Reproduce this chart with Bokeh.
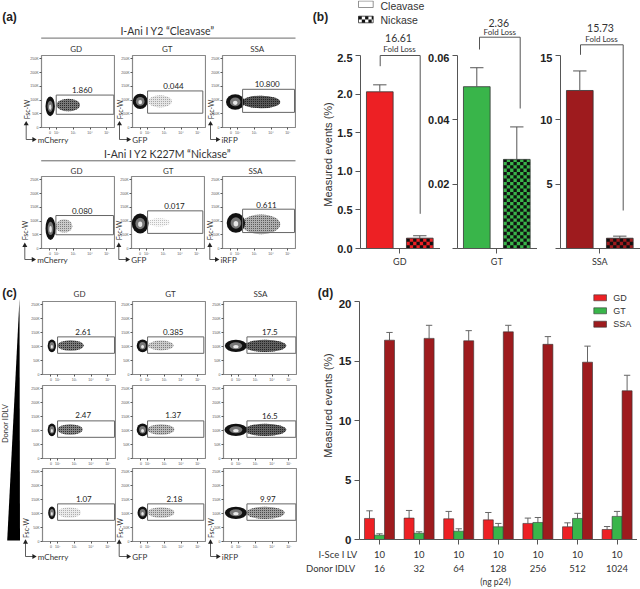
import math
import numpy as np
from bokeh.plotting import figure
from bokeh.models import Range1d, FixedTicker, LinearAxis, Column
from bokeh.core.properties import value
from bokeh.embed import file_html
from bokeh.resources import INLINE

# ---------- data ----------
red, green, dred = "#ED2024", "#39B54A", "#9E1B1E"
b_names = ["GD", "GT", "SSA"]
b_colors = [red, green, dred]
b_cleavase = [2.03, 0.0503, 12.28]
b_cleavase_err = [2.12, 0.0562, 13.8]
b_nickase = [0.134, 0.0277, 0.80]
b_nickase_err = [0.165, 0.0378, 0.96]
b_ymax = [2.5, 0.06, 15]
b_ticks = [[0, 0.5, 1.0, 1.5, 2.0, 2.5], [0, 0.02, 0.04, 0.06], [0, 5, 10, 15]]
b_tick_labels = [["0.0", "0.5", "1.0", "1.5", "2.0", "2.5"], ["", "0.02", "0.04", "0.06"], ["", "5", "10", "15"]]
b_fold = ["16.61", "2.36", "15.73"]

d_lv = ["10"] * 7
d_donor = ["16", "32", "64", "128", "256", "512", "1024"]
d_gd = [1.77, 1.80, 1.74, 1.65, 1.35, 1.07, 0.84]
d_gd_err = [2.41, 2.44, 2.36, 2.27, 1.80, 1.40, 1.09]
d_gt = [0.36, 0.53, 0.70, 1.07, 1.43, 1.77, 1.94]
d_gt_err = [0.48, 0.65, 0.90, 1.35, 1.85, 2.20, 2.36]
d_ssa = [16.75, 16.90, 16.70, 17.45, 16.40, 14.90, 12.50]
d_ssa_err = [17.40, 18.00, 17.55, 18.00, 17.05, 16.25, 13.80]

flow_pct = ["1.860", "0.044", "10.800", "0.080", "0.017", "0.611",
            "2.61", "0.385", "17.5", "2.47", "1.37", "16.5", "1.07", "2.18", "9.97"]
gate_l = [1.98, 2.00, 2.30, 1.96, 2.06, 2.30, 2.00, 2.00, 2.50, 2.00, 2.00, 2.50, 2.00, 2.00, 2.50]
gate_r = [5.42, 5.30, 5.40, 5.40, 5.36, 5.40, 5.40, 5.36, 5.42, 5.40, 5.36, 5.42, 5.40, 5.36, 5.42]
gate_t = [118, 133, 139, 120, 137, 143, 135, 135, 135, 135, 135, 135, 135, 135, 135]
gate_b = [48, 52, 55, 50, 55, 58, 76, 76, 76, 76, 76, 76, 76, 76, 76]
main_x = [1.62, 1.56, 1.86, 1.64, 1.62, 1.90, 1.66, 1.70, 1.84, 1.66, 1.70, 1.84, 1.66, 1.70, 1.84]
main_w = [0.28, 0.45, 0.55, 0.30, 0.50, 0.55, 0.25, 0.35, 0.66, 0.25, 0.35, 0.68, 0.22, 0.30, 0.66]
main_y = [77, 95, 93, 73, 91, 93, 103, 103, 103, 103, 103, 103, 103, 103, 103]
main_h = [36, 28, 28, 42, 36, 36, 23, 23, 22, 23, 23, 22, 23, 23, 22]
cloud_x = [2.70, 2.75, 3.40, 2.45, 2.75, 3.40, 2.78, 2.80, 3.60, 2.75, 2.80, 3.60, 2.70, 2.80, 3.60]
cloud_w = [0.70, 0.70, 1.15, 0.50, 0.65, 1.15, 0.78, 0.75, 1.25, 0.75, 0.80, 1.25, 0.70, 0.80, 1.15]
cloud_y = [82, 95, 93, 82, 95, 88, 104, 104, 103, 104, 104, 103, 104, 104, 103]
cloud_h = [23, 22, 23, 24, 15, 36, 19, 18, 22, 19, 19, 22, 19, 19, 22]
cloud_d = [0.75, 0.15, 0.95, 0.30, 0.06, 0.45, 0.75, 0.30, 0.90, 0.70, 0.40, 0.90, 0.12, 0.30, 0.55]
flow_y_ticks = [0, 50, 100, 150, 200, 250]
flow_y_labels = ["0", "50K", "100K", "150K", "200K", "250K"]
flow_x_ticks = [1.6, 2, 3, 4, 5]
flow_x_labels = ["0", "10²", "10³", "10⁴", "10⁵"]

# ---------- layout (pixels in the 640x589 page) ----------
W, H = 640, 589
XS, YS = 304, 282
children = []
ARIAL, LATO = "Liberation Sans", "Lato"


def place(p, left, top):
    p.styles = {"position": "absolute", "left": f"{left}px", "top": f"{top}px"}
    children.append(p)


def base_fig(frame_left, frame_top, fw, fh, x_range, y_range, ml, mb, mt=2, mr=0):
    p = figure(frame_width=fw, frame_height=fh,
               min_border_left=ml, min_border_right=mr, min_border_top=mt, min_border_bottom=mb,
               x_range=x_range, y_range=y_range, toolbar_location=None, output_backend="svg",
               x_axis_location=None, y_axis_location=None,
               background_fill_color=None, border_fill_color=None, outline_line_color=None)
    p.grid.visible = False
    place(p, frame_left - ml, frame_top - mt)
    return p


def checker(p, x0, x1, y0, y1, cx, cy, color="#111111"):
    ls, rs, bs, ts = [], [], [], []
    nx = int(math.ceil((x1 - x0) / cx))
    ny = int(math.ceil(abs(y1 - y0) / cy))
    sgn = 1 if y1 >= y0 else -1
    for j in range(ny):
        for i in range(nx):
            if (i + j) % 2 == 0:
                ls.append(x0 + i * cx)
                rs.append(min(x1, x0 + (i + 1) * cx))
                a = y0 + sgn * j * cy
                c = y0 + sgn * (j + 1) * cy
                c = min(c, y1) if sgn > 0 else max(c, y1)
                bs.append(a)
                ts.append(c)
    p.quad(left=ls, right=rs, bottom=bs, top=ts, fill_color=color, line_color=None)


def style_bar_axes(p, yticks, ylabels, size="11px"):
    ax = LinearAxis(ticker=FixedTicker(ticks=yticks),
                    major_label_overrides=dict(zip(yticks, ylabels)))
    ax.axis_line_color = ax.major_tick_line_color = "#555555"
    ax.major_tick_out, ax.major_tick_in, ax.minor_tick_out = 5, 0, 0
    ax.major_label_text_font = ARIAL
    ax.major_label_text_font_style = "bold"
    ax.major_label_text_font_size = size
    ax.major_label_text_color = "#222222"
    ax.major_label_standoff = 3
    p.add_layout(ax, "left")


# ---------- panel (b) ----------
b_left = [360, 457, 560]
for k, name in enumerate(b_names):
    ymax = b_ymax[k]
    fh, unit = 193, 40
    p = base_fig(b_left[k], 55, 80, fh, Range1d(-0.4825, 1.5175), Range1d(0, ymax), 40, 26)
    style_bar_axes(p, b_ticks[k], b_tick_labels[k])
    xa = LinearAxis(ticker=FixedTicker(ticks=[0.5]), major_label_overrides={0.5: name})
    xa.axis_line_color = xa.major_tick_line_color = "#555555"
    xa.major_tick_out, xa.major_tick_in, xa.minor_tick_out = 5, 0, 0
    xa.major_label_text_font = LATO
    xa.major_label_text_font_size = "9px"
    xa.major_label_text_color = "#333333"
    xa.major_label_standoff = 2
    p.add_layout(xa, "below")
    w = 0.667
    p.vbar(x=[0, 1], width=w, bottom=0, top=[b_cleavase[k], b_nickase[k]],
           fill_color=b_colors[k], line_color=None)
    checker(p, 1 - w / 2, 1 + w / 2, 0, b_nickase[k], 3.33 / unit, 3.33 * ymax / fh)
    p.vbar(x=[0, 1], width=w, bottom=0, top=[b_cleavase[k], b_nickase[k]],
           fill_color=None, line_color="#333333", line_width=0.8)
    tops = [b_cleavase[k], b_nickase[k]]
    errs = [b_cleavase_err[k], b_nickase_err[k]]
    p.segment(x0=[0, 1], x1=[0, 1], y0=tops, y1=errs, line_color="#555555", line_width=1)
    p.segment(x0=[-0.167, 0.833], x1=[0.167, 1.167], y0=errs, y1=errs, line_color="#555555", line_width=1)

# ---------- panel (d) ----------
p = base_fig(359, 301, 278, 238, Range1d(-0.505, 6.515), Range1d(0, 20), 40, 40)
style_bar_axes(p, [0, 5, 10, 15, 20], ["0", "5", "10", "15", "20"], "11.5px")
ticks = list(range(7))
xa = LinearAxis(ticker=FixedTicker(ticks=ticks), major_label_overrides=dict(zip(ticks, d_lv)))
xa.axis_line_color = xa.major_tick_line_color = "#555555"
xa.major_tick_out, xa.major_tick_in, xa.minor_tick_out = 5, 0, 0
xa.major_label_text_font, xa.major_label_text_font_size = LATO, "9.5px"
xa.major_label_text_color = "#333333"
xa.major_label_standoff = 6
p.add_layout(xa, "below")
xb = LinearAxis(ticker=FixedTicker(ticks=ticks), major_label_overrides=dict(zip(ticks, d_donor)))
xb.axis_line_color = None
xb.major_tick_line_color = None
xb.minor_tick_line_color = None
xb.major_label_text_font, xb.major_label_text_font_size = LATO, "9.5px"
xb.major_label_text_color = "#333333"
xb.major_label_standoff = -2
p.add_layout(xb, "below")
xs = np.arange(7)
for off, vals, errs, col in [(-0.2525, d_gd, d_gd_err, red), (0, d_gt, d_gt_err, green), (0.2525, d_ssa, d_ssa_err, dred)]:
    x = xs + off
    p.segment(x0=x, x1=x, y0=vals, y1=errs, line_color="#666666", line_width=1)
    p.segment(x0=x - 0.08, x1=x + 0.08, y0=errs, y1=errs, line_color="#666666", line_width=1)
    p.vbar(x=x, width=0.2525, bottom=0, top=vals, fill_color=col, line_color="#333333", line_width=0.6)

# ---------- flow panels ----------
flow_lefts = [[41, 132, 222], [41, 131, 222], [42, 132, 223], [42, 132, 223], [42, 132, 223]]
flow_tops = [55, 176, 301, 385, 468]
flow_heights = [72, 72, 73, 73, 73]
for r in range(5):
    for c in range(3):
        i = r * 3 + c
        p = base_fig(flow_lefts[r][c], flow_tops[r], 73, flow_heights[r],
                     Range1d(1.1, 5.46), Range1d(0, 262), 40, 12, mt=1, mr=1)
        p.outline_line_color = "#888888"
        p.outline_line_width = 1.2
        for ax, where, tk, lb in [(LinearAxis(), "left", flow_y_ticks, flow_y_labels),
                                  (LinearAxis(), "below", flow_x_ticks, flow_x_labels)]:
            ax.ticker = FixedTicker(ticks=tk)
            ax.major_label_overrides = dict(zip(tk, lb))
            ax.axis_line_color = None
            ax.major_tick_line_color = "#555555"
            ax.major_tick_out, ax.major_tick_in, ax.minor_tick_out = 2, 0, 0
            ax.major_label_text_font_size = "3.5px"
            ax.major_label_text_font = ARIAL
            ax.major_label_text_color = "#555555"
            ax.major_label_standoff = 1
            p.add_layout(ax, where)
        d = cloud_d[i]
        p.ellipse(x=[cloud_x[i]], y=[cloud_y[i]], width=[2 * cloud_w[i]], height=[2 * cloud_h[i]],
                  fill_color="#222222", fill_alpha=d * 0.8, line_color=None,
                  hatch_pattern="dot", hatch_color="#111111", hatch_alpha=min(1, 0.25 + d), hatch_scale=2)
        p.ellipse(x=[main_x[i]], y=[main_y[i]], width=[2 * main_w[i]], height=[2 * main_h[i]],
                  fill_color="#111111", line_color=None)
        p.ellipse(x=[main_x[i]], y=[main_y[i]], width=[1.15 * main_w[i]], height=[1.15 * main_h[i]],
                  fill_color="#777777", line_color=None)
        p.ellipse(x=[main_x[i]], y=[main_y[i] - 3], width=[0.5 * main_w[i]], height=[0.55 * main_h[i]],
                  fill_color="#e8e8e8", line_color=None)
        p.quad(left=[gate_l[i]], right=[gate_r[i]], bottom=[gate_b[i]], top=[gate_t[i]],
               fill_color=None, line_color="#666666", line_width=1)

# ---------- overlays: texts, brackets, arrows ----------
def overlay(x0, x1, y0, y1):
    o = figure(frame_width=x1 - x0, frame_height=y1 - y0, x_range=Range1d(x0, x1), y_range=Range1d(y1, y0),
               toolbar_location=None, output_backend="svg", x_axis_location=None, y_axis_location=None,
               min_border_left=40, min_border_right=0, min_border_top=0, min_border_bottom=0,
               background_fill_color=None, border_fill_color=None, outline_line_color=None)
    o.grid.visible = False
    place(o, x0 - 40, y0)
    return o


O = {(False, False): overlay(0, XS, 0, YS), (True, False): overlay(XS, W, 0, YS),
     (False, True): overlay(0, XS, YS, H), (True, True): overlay(XS, W, YS, H)}


def ov(x, y):
    return O[(x >= XS, y >= YS)]


def T(x, y, s, size, font=LATO, align="center", style="normal", angle=0.0, color="#333333"):
    ov(x, y).text(x=[x], y=[y], text=[s], text_font=value(font), text_font_size=f"{size}px",
                  text_align=align, text_baseline="middle", text_font_style=style, angle=angle, text_color=color)


def L(xs, ys, color="#555555", width=1.0):
    ov(xs[0], ys[0]).line(x=xs, y=ys, line_color=color, line_width=width)


# panel letters
for lx, ly, s in [(9, 16, "(a)"), (320, 16, "(b)"), (9, 292, "(c)"), (325, 292, "(d)")]:
    T(lx, ly, s, 12, ARIAL, style="bold", color="#222222")

# panel (a) headings
T(167, 30, "I-Ani I Y2 \u201cCleavase\u201d", 10.5)
L([40.7, 295], [37.7, 37.7], "#888888", 1.3)
T(167, 153, "I-Ani I Y2 K227M \u201cNickase\u201d", 10.5)
L([40.7, 295], [160.3, 160.3], "#666666", 1)

names3 = ["GD", "GT", "SSA"]
for n, x, y in zip(names3 * 3, [75.7, 166.7, 256.7, 76, 167.7, 255, 79, 170, 260],
                   [48.3] * 3 + [170] * 3 + [293.3] * 3):
    T(x, y, n, 8)

pct_pos = [(81.7, 89.3), (173, 85.7), (266.7, 83.3), (81.7, 210.3), (174, 205.7), (266, 204),
           (82.7, 331), (172.7, 331), (269.3, 331.7), (82.7, 414.7), (172.7, 414.7), (269.3, 415.7),
           (83.3, 498), (174, 498), (267.3, 498.7)]
for s, (x, y) in zip(flow_pct, pct_pos):
    T(x, y, s, 8, color="#222222")

# arrows under each column of (a), (a2), (c3)
chan = ["mCherry", "GFP", "iRFP"]
for ax_xs, tip, corner, tx, fy in [
    ([25.7, 119, 210], 123.3, 139, [37.3, 131.7, 221], 109),
    ([24.3, 118.3, 209.3], 245, 259, [36.7, 130.7, 220], 230),
    ([25, 118.7, 210], 541.7, 556, [37.3, 131.7, 221.3], 527.7),
]:
    for x, t, ch in zip(ax_xs, tx, chan):
        L([x, x, t - 4], [tip, corner, corner], "#333333", 0.8)
        ov(x, tip).scatter(x=[x], y=[tip], marker="triangle", size=5, fill_color="#222222", line_color=None)
        ov(x, tip).scatter(x=[t - 4], y=[corner], marker="triangle", size=5, angle=-math.pi / 2,
                           fill_color="#222222", line_color=None)
        T(t, corner, ch, 8, align="left")
        T(x + 0.5, fy, "Fsc-W", 7, angle=math.pi / 2)

# wedge in (c)
ov(10, 400).patch(x=[19, 19.5, 6.7], y=[298, 540, 540], fill_color="#000000", line_color=None)
T(4.5, 423, "Donor IDLV", 7.5, angle=math.pi / 2)

# panel (b) legend
ob = ov(358, 5)
ob.quad(left=[358], right=[372.7], top=[0.5], bottom=[7], fill_color="#ffffff", line_color="#777777", line_width=0.8)
T(380, 5, "Cleavase", 10.5, ARIAL, align="left")
ob.quad(left=[358], right=[372.7], top=[15.7], bottom=[22.3], fill_color="#ffffff", line_color="#333333", line_width=0.8)
checker(ob, 358, 372.7, 15.7, 22.3, 3.3, 3.3)
T(380, 19.5, "Nickase", 10.5, ARIAL, align="left")

# panel (b) brackets
L([379.7, 379.7, 419.7, 419.7], [65.7, 55, 55, 213.3])
L([479, 479, 519.7, 519.7], [49, 36.7, 36.7, 108])
L([580, 580, 622.7, 622.7], [54.3, 44.3, 44.3, 210])
for s, x, y, fy in zip(b_fold, [398, 498.3, 600], [37.7, 22.3, 27.7], [48.7, 31.3, 38.3]):
    T(x, y, s, 10.5)
    T(x + 1, fy, "Fold Loss", 8)

# y labels
T(327, 154, "Measured events (%)", 11, ARIAL, angle=math.pi / 2)
T(327, 405, "Measured events (%)", 11, ARIAL, angle=math.pi / 2)

# panel (d) legend
for n, col, y0, y1, ty in [("GD", red, 294.3, 300.3, 297.3), ("GT", green, 307.3, 313.3, 310.3), ("SSA", dred, 320.7, 326.7, 323.7)]:
    ov(600, y0).quad(left=[593.3], right=[606], top=[y0], bottom=[y1], fill_color=col, line_color="#333333", line_width=0.6)
    T(612.7, ty, n, 9, ARIAL, align="left")

# panel (d) row titles
T(356.7, 554.3, "I-Sce I LV", 9.5, align="right")
T(355, 568.3, "Donor IDLV", 9.5, align="right")
T(495, 581, "(ng p24)", 8.5)

root = Column(children=children, width=W - 16, height=H - 16, styles={"position": "relative"})
open("out.html", "w").write(file_html(root, INLINE))
